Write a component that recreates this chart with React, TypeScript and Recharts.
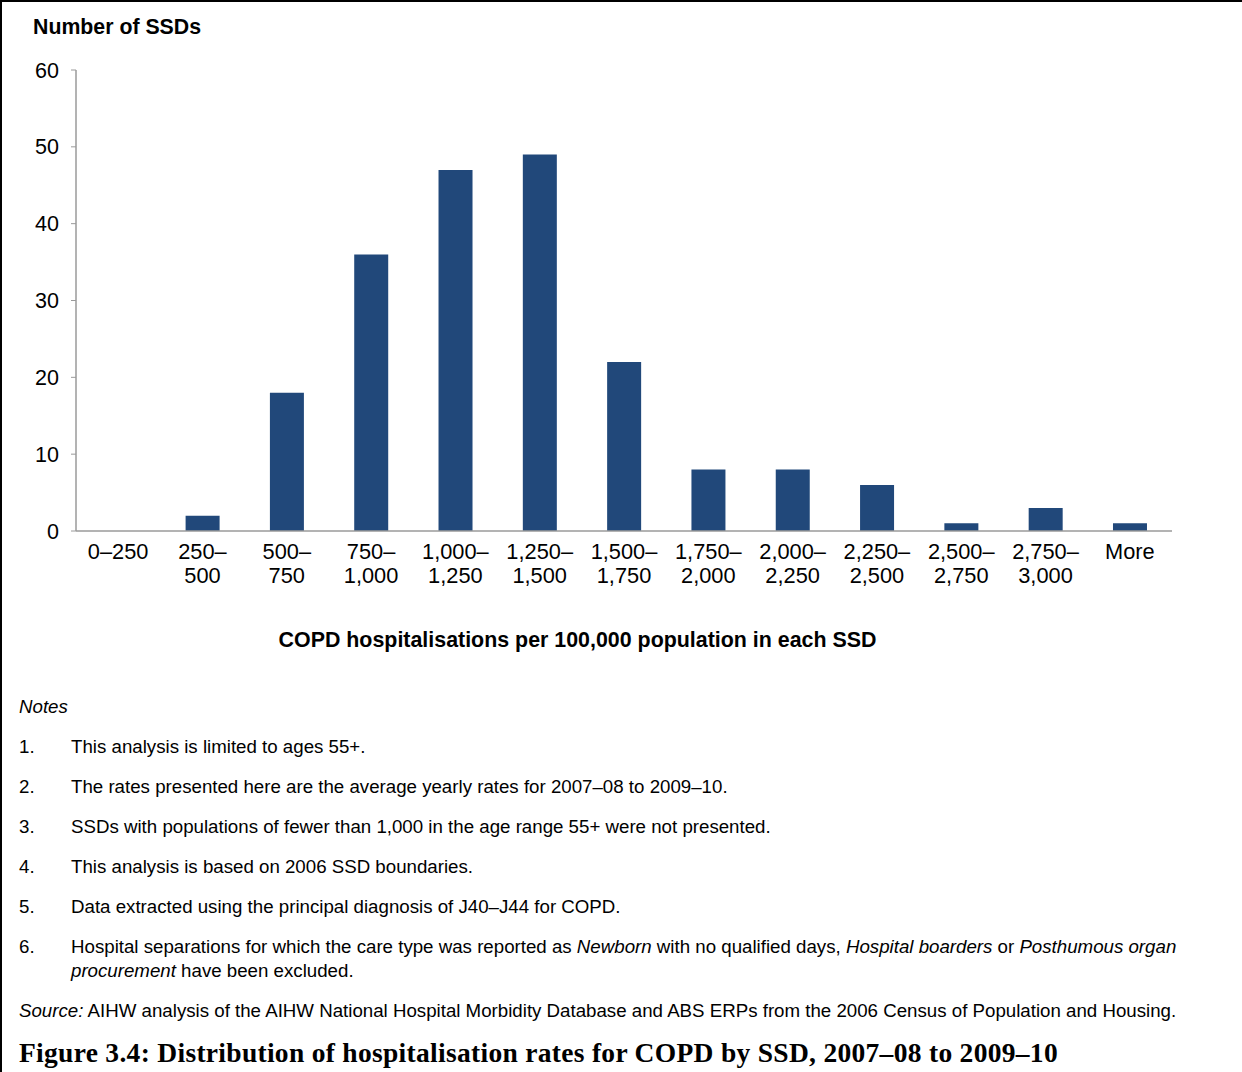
import React from "react";
import { Bar, BarChart, XAxis, YAxis } from "recharts";

// COPD hospitalisation rate bands (per 100,000) and number of SSDs in each
const categories = [
  "0–250", "250–500", "500–750", "750–1,000", "1,000–1,250", "1,250–1,500",
  "1,500–1,750", "1,750–2,000", "2,000–2,250", "2,250–2,500", "2,500–2,750",
  "2,750–3,000", "More",
];
const ssdCounts = [0, 2, 18, 36, 47, 49, 22, 8, 8, 6, 1, 3, 1];
const yTicks = [0, 10, 20, 30, 40, 50, 60];

const notes = [
  "This analysis is limited to ages 55+.",
  "The rates presented here are the average yearly rates for 2007–08 to 2009–10.",
  "SSDs with populations of fewer than 1,000 in the age range 55+ were not presented.",
  "This analysis is based on 2006 SSD boundaries.",
  "Data extracted using the principal diagnosis of J40–J44 for COPD.",
];

const data = categories.map((band, i) => ({ band, count: ssdCounts[i] }));

const SANS = "'Liberation Sans', Arial, Helvetica, sans-serif";
const BAR_COLOR = "#21487A";
const AXIS_COLOR = "#9a9a9a";

// Excel-style wrap: break after the dash when the label is long
function BandTick(props: any) {
  const { x, y, payload } = props;
  const label: string = payload.value;
  const lines = label.length > 5 && label.includes("–")
    ? [label.slice(0, label.indexOf("–") + 1), label.slice(label.indexOf("–") + 1)]
    : [label];
  return (
    <text x={x} y={y} textAnchor="middle" fontSize={21.8} fontFamily={SANS} fill="#000">
      {lines.map((ln, i) => (
        <tspan key={i} x={x} dy={i === 0 ? 28 : 24}>{ln}</tspan>
      ))}
    </text>
  );
}

function Line({ top, left, children, style }: any) {
  return (
    <div style={{ position: "absolute", top, left, fontFamily: SANS, fontSize: 18.7, lineHeight: "22px", color: "#000", whiteSpace: "nowrap", ...style }}>
      {children}
    </div>
  );
}

export default function App() {
  return (
    <div style={{ position: "relative", width: 1242, height: 1072, background: "#fff", overflow: "hidden" }}>
      <style>{`body{margin:0}`}</style>
      <div style={{ position: "absolute", left: 0, top: 0, width: 1242, height: 2, background: "#000" }} />
      <div style={{ position: "absolute", left: 0, top: 0, width: 2, height: 1072, background: "#000" }} />

      <Line top={14} left={33} style={{ fontSize: 21.3, fontWeight: "bold", lineHeight: "26px" }}>Number of SSDs</Line>

      <div style={{ position: "absolute", left: 0, top: 0 }}>
        <BarChart
          width={1242}
          height={620}
          data={data}
          margin={{ top: 70, right: 70, left: 0, bottom: 29 }}
          barCategoryGap="30%"
        >
          <XAxis
            dataKey="band"
            interval={0}
            tickLine={false}
            tickSize={0}
            tickMargin={0}
            height={60}
            axisLine={{ stroke: AXIS_COLOR, strokeWidth: 1.5 }}
            tick={<BandTick />}
          />
          <YAxis
            width={76}
            domain={[0, 60]}
            ticks={yTicks}
            interval={0}
            tickSize={5}
            tickMargin={12}
            axisLine={{ stroke: AXIS_COLOR, strokeWidth: 1.5 }}
            tickLine={{ stroke: AXIS_COLOR }}
            tick={{ fill: "#000", fontSize: 21.5, fontFamily: SANS }}
          />
          <Bar dataKey="count" fill={BAR_COLOR} isAnimationActive={false} />
        </BarChart>
      </div>

      <Line top={627} left={0} style={{ width: 1155, textAlign: "center", fontSize: 21.4, fontWeight: "bold", lineHeight: "26px" }}>
        COPD hospitalisations per 100,000 population in each SSD
      </Line>

      <Line top={696} left={19} style={{ fontStyle: "italic" }}>Notes</Line>
      {notes.map((n, i) => (
        <React.Fragment key={i}>
          <Line top={736 + i * 40} left={19}>{i + 1}.</Line>
          <Line top={736 + i * 40} left={71}>{n}</Line>
        </React.Fragment>
      ))}
      <Line top={936} left={19}>6.</Line>
      <Line top={935} left={71} style={{ lineHeight: "24px" }}>
        Hospital separations for which the care type was reported as <i>Newborn</i> with no qualified days, <i>Hospital boarders</i> or <i>Posthumous organ</i>
        <br />
        <i>procurement</i> have been excluded.
      </Line>
      <Line top={1000} left={19}>
        <i>Source:</i> AIHW analysis of the AIHW National Hospital Morbidity Database and ABS ERPs from the 2006 Census of Population and Housing.
      </Line>

      <div style={{ position: "absolute", top: 1036, left: 19, fontFamily: "'Liberation Serif', 'Times New Roman', serif", fontWeight: "bold", fontSize: 27.5, letterSpacing: "0.3px", lineHeight: "34px", whiteSpace: "nowrap", color: "#000" }}>
        Figure 3.4: Distribution of hospitalisation rates for COPD by SSD, 2007–08 to 2009–10
      </div>
    </div>
  );
}
